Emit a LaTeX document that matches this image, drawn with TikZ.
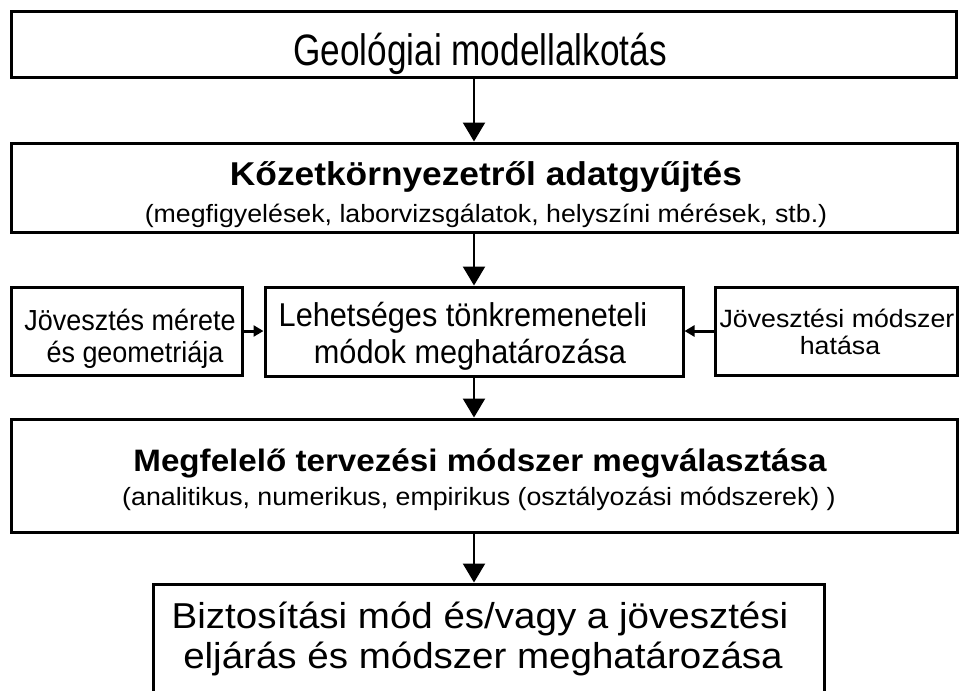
\documentclass[tikz,border=0pt]{standalone}
\usepackage{fontspec}
\setmainfont{Liberation Sans}
\newfontfamily\wideF[FakeStretch=1.07]{Liberation Sans}
\newfontfamily\narrowF[FakeStretch=0.8]{Liberation Sans}
\newfontfamily\midF[FakeStretch=0.93]{Liberation Sans}
\newcommand{\fsz}[1]{\fontsize{#1}{#1}\selectfont}
\usetikzlibrary{arrows.meta}
\begin{document}
\begin{tikzpicture}[x=1pt,y=1pt,
  box/.style={draw=black, line width=3pt, fill=white, inner sep=0pt},
  txt/.style={anchor=base, inner sep=0pt},
  flow/.style={line width=2.5pt, -{Triangle[width=22pt,length=19pt]}},
  side/.style={line width=3pt, -{Triangle[width=11pt,length=10pt]}}]
\useasboundingbox[fill=white] (0,0) rectangle (959,-691);

% boxes
\node[box, minimum width=945, minimum height=66] (geo) at (483.5,-44) {};
\node[box, minimum width=946, minimum height=89] (adat) at (484,-187.5) {};
\node[box, minimum width=418, minimum height=89] (tonk) at (474,-331.5) {};
\node[box, minimum width=231, minimum height=88] (meret) at (126.5,-331) {};
\node[box, minimum width=242, minimum height=88] (hatas) at (836,-331) {};
\node[box, minimum width=946, minimum height=113] (terv) at (484,-475.5) {};
\node[box, minimum width=671, minimum height=122] (bizt) at (488.5,-645) {};

% texts
\node[txt] (geoT) at (480,-65) {\narrowF\fsz{44}Geológiai modellalkotás};
\node[txt] (adatT) at (486,-185) {\wideF\fsz{33}\bfseries Kőzetkörnyezetről adatgyűjtés};
\node[txt] (adatS) at (486,-222) {\wideF\fsz{25}(megfigyelések, laborvizsgálatok, helyszíni mérések, stb.)};
\node[txt] (tonkA) at (463,-326) {\midF\fsz{33}Lehetséges tönkremeneteli};
\node[txt] (tonkB) at (470,-363) {\midF\fsz{33}módok meghatározása};
\node[txt] (meretA) at (130,-330) {\midF\fsz{29}Jövesztés mérete};
\node[txt] (meretB) at (135,-362) {\midF\fsz{29}és geometriája};
\node[txt] (hatasA) at (837,-327) {\wideF\fsz{25}Jövesztési módszer};
\node[txt] (hatasB) at (840,-354) {\wideF\fsz{25}hatása};
\node[txt] (tervT) at (480,-471) {\wideF\fsz{31}\bfseries Megfelelő tervezési módszer megválasztása};
\node[txt] (tervS) at (479,-505) {\wideF\fsz{25}(analitikus, numerikus, empirikus (osztályozási módszerek) )};
\node[txt] (biztA) at (480,-628) {\wideF\fsz{36}Biztosítási mód és/vagy a jövesztési};
\node[txt] (biztB) at (483,-668) {\wideF\fsz{36}eljárás és módszer meghatározása};

% connectors
\draw[flow] (geo.south -| tonk.north) -- (adat.north -| tonk.north);
\draw[flow] (adat.south -| tonk.north) -- (tonk.north);
\draw[flow] (tonk.south) -- (terv.north -| tonk.south);
\draw[flow] (terv.south -| tonk.south) -- (bizt.north -| tonk.south);
\draw[side] (meret.east) -- (tonk.west |- meret.east);
\draw[side] (hatas.west) -- (tonk.east |- hatas.west);
\end{tikzpicture}
\end{document}
